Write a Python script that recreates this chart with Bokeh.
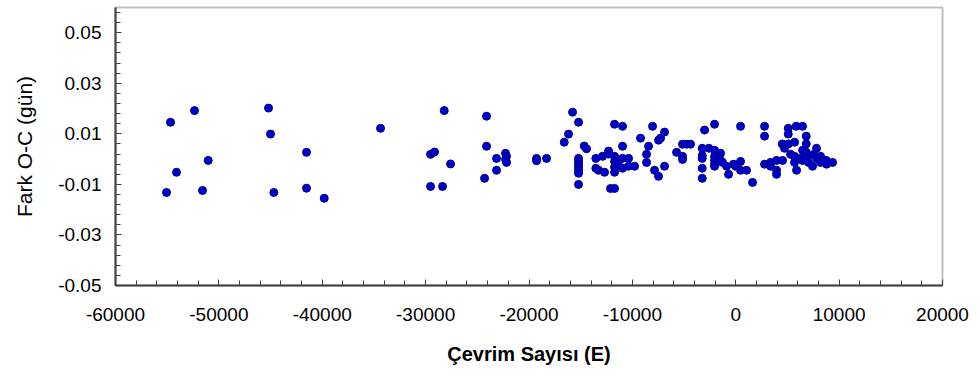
from bokeh.plotting import figure
from bokeh.models import FixedTicker, PrintfTickFormatter, Range1d
from bokeh.embed import file_html
from bokeh.resources import INLINE

# Cycle number E
cycle_e = [
    -54677, -52356, -54097, -55064, -51030, -51582, -45197, -45004, -44684,
    -41521, -41521, -39809, -34362,
    -28200, -29525, -29138, -27590, -29525, -28364, -24108, -24108, -24301,
    -23140, -23140, -22270, -22173, -22270, -22173, -19271, -19271, -18303,
    -15788, -15207, -16175, -16591, -14656, -14434,
    -15207, -15207, -15207, -15207, -15207, -15207, -15207,
    -13534, -12886, -12305, -12305, -13534, -13273, -12692,
    -11725, -11725, -11725, -11725, -11531, -11338, -12112, -11725,
    -11725, -10951, -10951, -10951, -10370, -10951, -10370, -9790,
    -9210, -8436, -8049, -8629, -8629, -7855, -7468, -6888,
    -7468, -7275, -6888, -5727, -5147, -4760, -4373, -5147, -5147,
    -3018, -2051, -3241, -2602, -3241, -3241, -3241, -3241,
    -2051, -2051, -2051, -2051, -2051, -1470, -1470, -1277, -890, -697,
    -213, -19, 464, 464, 1045, 1625, 464,
    2786, 2786, 2786, 3367, 3367, 3947, 3947, 3947, 4527,
    5079, 5079, 5853, 6462, 6820, 4498, 4721, 5079, 5688, 6820, 6462, 6820, 7817,
    5301, 5688, 5688, 6269, 6462, 5882, 6917, 7043, 7430, 7555, 7817,
    8204, 8204, 8784, 9364, 8755,
]

# O-C difference (days)
o_minus_c = [
    0.0146, 0.0192, -0.0052, -0.0132, -0.0005, -0.0124, 0.0202, 0.0099, -0.0132,
    0.0027, -0.0115, -0.0155, 0.0122,
    0.0192, 0.0019, 0.0028, -0.0019, -0.0108, -0.0108, 0.0170, 0.0051, -0.0076,
    0.0003, -0.0044, 0.0023, 0.0011, -0.0001, -0.0013, 0.0003, -0.0006, 0.0003,
    0.0186, 0.0146, 0.0099, 0.0067, 0.0052, 0.0041,
    0.0003, -0.0009, -0.0020, -0.0032, -0.0044, -0.0056, -0.0100,
    0.0003, 0.0011, 0.0032, 0.0020, -0.0036, -0.0044, -0.0052,
    0.0011, -0.0009, -0.0032, -0.0052, -0.0016, -0.0024, -0.0116, -0.0116,
    0.0138, 0.0130, 0.0051, 0.0003, 0.0003, -0.0036, -0.0028, -0.0028,
    0.0083, 0.0051, 0.0130, 0.0019, -0.0013, -0.0044, -0.0068, -0.0028,
    0.0075, 0.0083, 0.0107, 0.0027, 0.0059, 0.0059, 0.0059, 0.0011, -0.0001,
    0.0115, 0.0138, 0.0043, 0.0043, 0.0014, 0.0003, -0.0036, -0.0076,
    0.0035, 0.0011, -0.0005, -0.0020, -0.0028, 0.0023, -0.0005, -0.0013, -0.0028, -0.0060,
    -0.0020, -0.0028, -0.0009, -0.0044, -0.0044, -0.0092, 0.0130,
    0.0130, 0.0091, -0.0020, -0.0013, -0.0028, -0.0005, -0.0044, -0.0060, -0.0005,
    0.0122, 0.0099, 0.0130, 0.0130, 0.0091, 0.0060, 0.0043, 0.0060, 0.0067, 0.0060, 0.0035, 0.0027, 0.0043,
    0.0019, 0.0011, -0.0013, 0.0003, -0.0005, -0.0044, 0.0003, -0.0013, -0.0028, 0.0019, 0.0003,
    0.0011, -0.0013, -0.0020, -0.0013, -0.0005,
]

x_ticks = [-60000, -50000, -40000, -30000, -20000, -10000, 0, 10000, 20000]
x_minor = list(range(-60000, 20001, 2000))
y_ticks = [-0.05, -0.03, -0.01, 0.01, 0.03, 0.05]
y_minor = [round(-0.05 + 0.004 * i, 3) for i in range(28)]

FONT = "Liberation Sans"

p = figure(width=980, height=376, output_backend="svg", toolbar_location=None,
           x_range=Range1d(-60000, 20000), y_range=Range1d(-0.05, 0.06),
           min_border_left=115, min_border_right=38, min_border_top=7,
           min_border_bottom=91)

p.scatter(cycle_e, o_minus_c, size=8, fill_color="#0000cc", line_color="#000080",
          line_width=1)

p.xgrid.visible = False
p.ygrid.visible = False
p.outline_line_color = "#c0c0c0"
p.outline_line_width = 2

p.xaxis.ticker = FixedTicker(ticks=x_ticks, minor_ticks=x_minor)
p.yaxis.ticker = FixedTicker(ticks=y_ticks, minor_ticks=y_minor)
p.xaxis.formatter = PrintfTickFormatter(format="%d")
p.yaxis.formatter = PrintfTickFormatter(format="%.2f")

for ax in (p.xaxis[0], p.yaxis[0]):
    ax.axis_line_color = "#404040"
    ax.axis_line_width = 2
    ax.major_tick_line_color = "#404040"
    ax.minor_tick_line_color = "#404040"
    ax.major_tick_in = 6
    ax.major_tick_out = 0
    ax.minor_tick_in = 5
    ax.minor_tick_out = 0
    ax.major_label_text_font = FONT
    ax.major_label_text_font_size = "19px"
    ax.major_label_text_color = "black"
    ax.axis_label_text_font = FONT
    ax.axis_label_text_color = "black"

p.xaxis.axis_label = "Çevrim Sayısı (E)"
p.xaxis.axis_label_text_font_style = "bold"
p.xaxis.axis_label_text_font_size = "20px"
p.xaxis.major_label_standoff = 22
p.xaxis.axis_label_standoff = 19

p.yaxis.axis_label = "Fark O-C (gün)"
p.yaxis.axis_label_text_font_style = "normal"
p.yaxis.axis_label_text_font_size = "21px"
p.yaxis.major_label_standoff = 14
p.yaxis.axis_label_standoff = 19

open("out.html", "w").write(file_html(p, INLINE))
